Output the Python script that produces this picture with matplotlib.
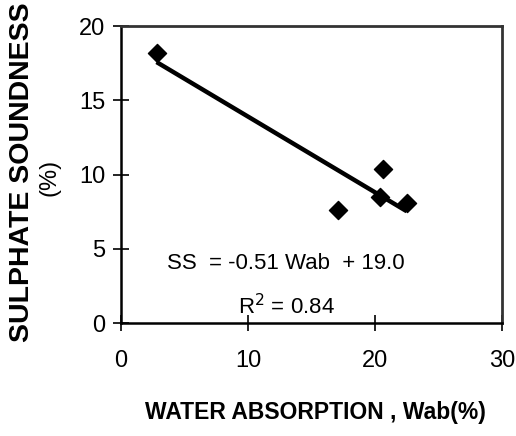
import matplotlib
matplotlib.use("Agg")
import matplotlib.pyplot as plt
import numpy as np

# ── Data ─────────────────────────────────────────────────────────────────────
water_absorption = [2.8, 17.1, 20.4, 20.6, 22.5]
sulphate_soundness = [18.2, 7.6, 8.5, 10.4, 8.1]
slope, intercept = -0.51, 19.0
r_squared = 0.84

x_ticks = [0, 10, 20, 30]
y_ticks = [0, 5, 10, 15, 20]

plt.rcParams["font.family"] = ["Liberation Sans Narrow", "Liberation Sans", "DejaVu Sans"]

fig = plt.figure(figsize=(5.16, 4.36), dpi=100)
ax = fig.add_axes([121 / 516, 1 - 323 / 436, (502 - 121) / 516, (323 - 26) / 436])

# trend line over the data range
xs = np.array([min(water_absorption), max(water_absorption)])
ax.plot(xs, slope * xs + intercept, color="black", lw=3.2, solid_capstyle="butt", zorder=2)
ax.scatter(water_absorption, sulphate_soundness, marker="D", s=85, color="black", zorder=3)

ax.set_xlim(0, 30)
ax.set_ylim(0, 20)
ax.set_xticks(x_ticks)
ax.set_yticks(y_ticks)
ax.tick_params(direction="inout", length=11, width=1.2, labelsize=17)
ax.tick_params(axis="y", pad=6)
ax.tick_params(axis="x", pad=14)
for side in ["top", "right"]:
    ax.spines[side].set_linewidth(2.0)
    ax.spines[side].set_color("#333333")
for side in ["left", "bottom"]:
    ax.spines[side].set_linewidth(1.8)

ax.text(13.0, 4.0, f"SS  = {slope:.2f} Wab  + {intercept:.1f}", fontsize=16, ha="center", va="center")
ax.text(13.0, 1.1, f"R$^2$ = {r_squared:.2f}", fontsize=16, ha="center", va="center")

# axis labels (the long bold one runs off the top edge, as in the original)
fig.text(22 / 516, 1 - 172 / 436, "SULPHATE SOUNDNESS", rotation=90, fontsize=20.5,
         fontweight="bold", ha="center", va="center")
fig.text(50 / 516, 1 - 177 / 436, "(%)", rotation=90, fontsize=17, ha="center", va="center")
fig.text(315 / 516, 1 - 412 / 436, "WATER ABSORPTION , Wab(%)", fontsize=16.5,
         fontweight="bold", ha="center", va="center")

fig.savefig("out.png", dpi=100, facecolor="white")
